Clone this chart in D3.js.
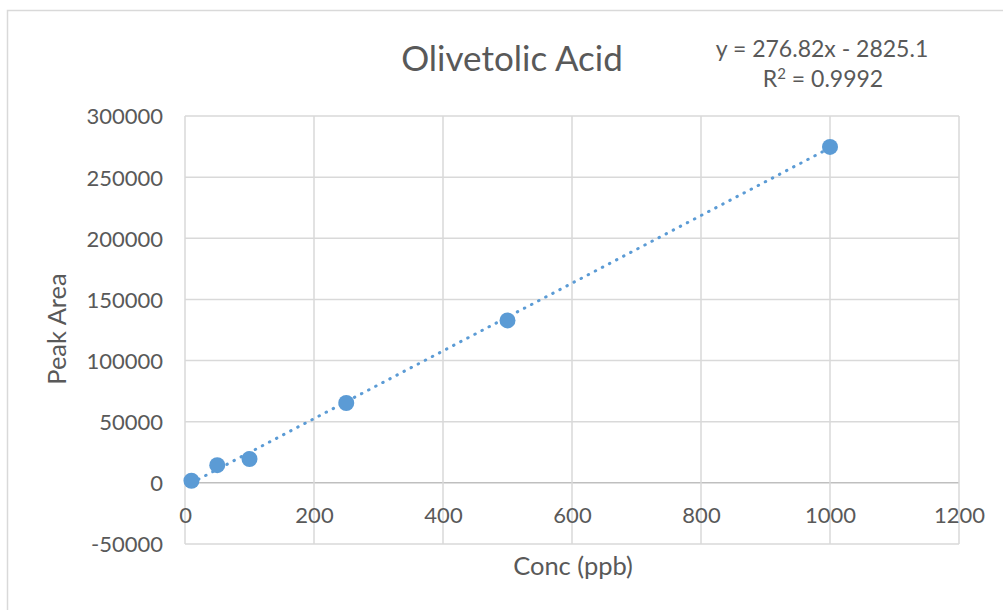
<!DOCTYPE html>
<html><head><meta charset="utf-8">
<script src="https://cdn.jsdelivr.net/npm/d3@7"></script>
<style>
html,body{margin:0;padding:0;background:#fff;}
svg{display:block;}
text{font-family:Lato,"Liberation Sans",Arial,sans-serif;fill:#595959;}
</style></head>
<body>
<svg id="chart" width="1003" height="610"></svg>
<script>
const concentrations = [10, 50, 100, 250, 500, 1000];
const peakAreas = [1700, 14500, 19500, 65300, 132800, 274700];
const xTicks = [0, 200, 400, 600, 800, 1000, 1200];
const yTicks = [-50000, 0, 50000, 100000, 150000, 200000, 250000, 300000];
const slope = 276.82, intercept = -2825.1;
const title = "Olivetolic Acid";
const eqLine1 = "y = 276.82x - 2825.1";
const r2Label = "0.9992";

const FONT = "Lato, Liberation Sans, Arial, sans-serif";
const svg = d3.select("#chart");
const m = {left:185, right:959, top:116, bottom:544};

svg.append("rect").attr("x",7.5).attr("y",10.5).attr("width",1010).attr("height",620)
  .attr("fill","#fff").attr("stroke","#d9d9d9").attr("stroke-width",1.5);

const x = d3.scaleLinear().domain([0,1200]).range([m.left, m.right]);
const y = d3.scaleLinear().domain([-50000,300000]).range([m.bottom, m.top]);

// gridlines
svg.append("g").selectAll("line").data(yTicks).join("line")
  .attr("x1",m.left).attr("x2",m.right)
  .attr("y1",d=>y(d)).attr("y2",d=>y(d))
  .attr("stroke",d=>d===0?"#bfbfbf":"#d9d9d9").attr("stroke-width",1.5);
svg.append("g").selectAll("line").data(xTicks).join("line")
  .attr("x1",d=>x(d)).attr("x2",d=>x(d))
  .attr("y1",m.top).attr("y2",m.bottom)
  .attr("stroke","#d9d9d9").attr("stroke-width",1.5);

const fmt = d => String(d);
const yAxis = svg.append("g").attr("transform",`translate(${m.left-22},0)`)
  .call(d3.axisLeft(y).tickValues(yTicks).tickSize(0).tickFormat(fmt));
yAxis.select(".domain").remove();
yAxis.selectAll("text").attr("font-size",22).attr("fill","#595959")
  .attr("font-family",FONT).attr("dy","0.36em").attr("x",0);

const xAxis = svg.append("g").attr("transform",`translate(0,${y(0)+40})`)
  .call(d3.axisBottom(x).tickValues(xTicks).tickSize(0).tickFormat(fmt));
xAxis.select(".domain").remove();
xAxis.selectAll("text").attr("font-size",22).attr("fill","#595959")
  .attr("font-family",FONT).attr("dy",0).attr("y",0);

// trendline
const xmin = d3.min(concentrations), xmax = d3.max(concentrations);
svg.append("line")
  .attr("x1",x(xmin)).attr("y1",y(slope*xmin+intercept))
  .attr("x2",x(xmax)).attr("y2",y(slope*xmax+intercept))
  .attr("stroke","#5b9bd5").attr("stroke-width",3)
  .attr("stroke-linecap","round").attr("stroke-dasharray","0.5 7.5");

// points
svg.append("g").selectAll("circle").data(concentrations.map((c,i)=>[c,peakAreas[i]])).join("circle")
  .attr("cx",d=>x(d[0])).attr("cy",d=>y(d[1])).attr("r",8).attr("fill","#5b9bd5");

// titles
svg.append("text").attr("x",512).attr("y",71).attr("text-anchor","middle")
  .attr("font-size",35).text(title);
svg.append("text").attr("x",822).attr("y",57).attr("text-anchor","middle")
  .attr("font-size",23).text(eqLine1);
const r2 = svg.append("text").attr("x",823).attr("y",87).attr("text-anchor","middle").attr("font-size",23);
r2.append("tspan").text("R");
r2.append("tspan").attr("font-size",15).attr("dy",-8).text("2");
r2.append("tspan").attr("dy",8).text(" = " + r2Label);

svg.append("text").attr("x",573).attr("y",575).attr("text-anchor","middle")
  .attr("font-size",25.5).text("Conc (ppb)");
svg.append("text").attr("transform","translate(66,329) rotate(-90)").attr("text-anchor","middle")
  .attr("font-size",25.5).text("Peak Area");
</script>
</body></html>
